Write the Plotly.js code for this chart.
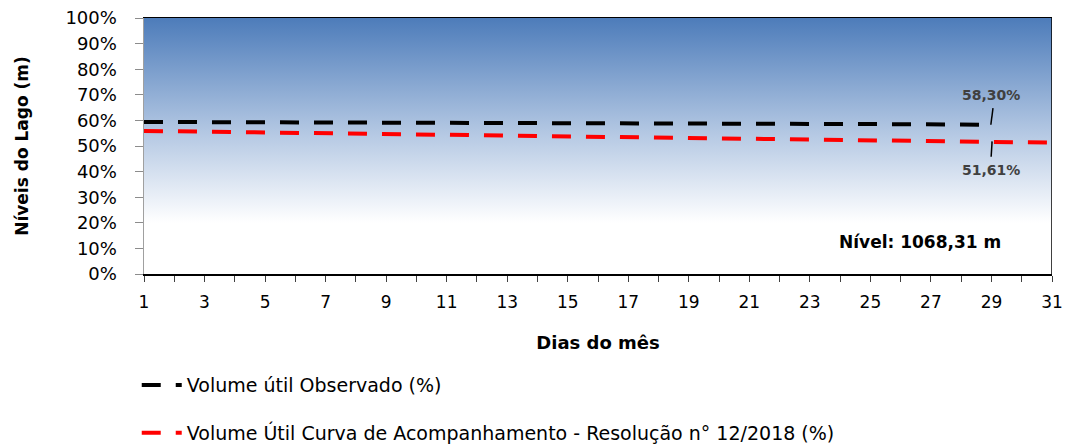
<!DOCTYPE html>
<html><head><meta charset="utf-8">
<script src="https://cdn.plot.ly/plotly-3.0.1.min.js"></script>
<style>html,body{margin:0;padding:0;background:#fff}#chart{width:1066px;height:446px}</style>
</head><body><div id="chart"></div>
<script>
const daysObs = [1,2,3,4,5,6,7,8,9,10,11,12,13,14,15,16,17,18,19,20,21,22,23,24,25,26,27,28,29];
const volObservado = [59.40,59.38,59.35,59.32,59.28,59.24,59.20,59.17,59.14,59.10,59.07,59.04,59.01,58.98,58.95,58.92,58.89,58.86,58.82,58.78,58.74,58.70,58.66,58.62,58.57,58.52,58.46,58.39,58.30];
const daysCurva = [1,2,3,4,5,6,7,8,9,10,11,12,13,14,15,16,17,18,19,20,21,22,23,24,25,26,27,28,29,30,31];
const volCurva = [55.90,55.75,55.60,55.45,55.30,55.15,55.00,54.85,54.70,54.55,54.40,54.25,54.10,53.95,53.80,53.65,53.50,53.35,53.20,53.05,52.90,52.75,52.60,52.45,52.30,52.15,52.00,51.85,51.61,51.45,51.30];
const yTickVals = [0,10,20,30,40,50,60,70,80,90,100];
const yTickText = ['0%','10%','20%','30%','40%','50%','60%','70%','80%','90%','100%'];
const labelObs = '58,30%';
const labelCurva = '51,61%';
const nivelText = 'Nível: 1068,31 m';

const dv = '"DejaVu Sans", sans-serif';
const traces = [
  {x:[1,31], y:[100,100], type:'scatter', mode:'none', fill:'tozeroy', hoverinfo:'skip', showlegend:false,
   fillgradient:{type:'vertical', colorscale:[[0,'#ffffff'],[0.2,'#ffffff'],[0.55,'#b4c8e3'],[1,'#4d7cba']]}},
  {x:daysObs, y:volObservado, type:'scatter', mode:'lines', name:'Volume útil Observado (%)',
   legendgroup:'a', line:{color:'#000000', width:4, dash:'19px,15px'}},
  {x:daysCurva, y:volCurva, type:'scatter', mode:'lines', name:'Volume Útil Curva de Acompanhamento - Resolução n° 12/2018 (%)',
   legendgroup:'b', line:{color:'#ff0000', width:4, dash:'19px,15px'}}
];
const layout = {
  width:1066, height:446,
  margin:{l:144, r:14, t:18, b:172, autoexpand:false},
  paper_bgcolor:'#ffffff', plot_bgcolor:'#ffffff',
  showlegend:true,
  legend:{x:-0.008, xanchor:'left', y:-0.36, yanchor:'top', orientation:'v', tracegroupgap:20,
          font:{family:dv, size:19, color:'#000'}, itemwidth:40, bgcolor:'rgba(0,0,0,0)'},
  xaxis:{range:[1,31], tickmode:'linear', tick0:1, dtick:2, ticks:'outside', ticklen:6, tickcolor:'#404040',
         showline:true, linecolor:'#000', linewidth:1.5, mirror:true, showgrid:false, zeroline:false,
         ticklabelstandoff:6,
         minor:{dtick:1, ticks:'outside', ticklen:6, tickcolor:'#404040', showgrid:false},
         tickfont:{family:dv, size:17, color:'#000'},
         title:{text:'<b>Dias do mês</b>', font:{family:dv, size:18, color:'#000'}, standoff:25}},
  yaxis:{range:[0,100], tickvals:yTickVals, ticktext:yTickText, ticks:'outside', ticklen:8, tickcolor:'#8c8c8c',
         showline:true, linecolor:'#a0a0a0', linewidth:1.5, showgrid:false, zeroline:false,
         ticklabelstandoff:14,
         tickfont:{family:dv, size:18, color:'#000'},
         title:{text:'<b>Níveis do Lago (m)</b>', font:{family:dv, size:17, color:'#000'}, standoff:32}},
  shapes:[
    {type:'line', xref:'x', yref:'paper', x0:31, x1:31, y0:0, y1:1, line:{color:'#000', width:1.5}},
    {type:'line', xref:'x', yref:'y', x0:29.05, y0:64.8, x1:28.98, y1:58.3, line:{color:'#000', width:1.5}},
    {type:'line', xref:'x', yref:'y', x0:29.02, y0:51.8, x1:28.99, y1:45.8, line:{color:'#000', width:1.5}}
  ],
  annotations:[
    {x:29, y:69.9, xref:'x', yref:'y', text:'<b>'+labelObs+'</b>', showarrow:false,
     font:{family:dv, size:14, color:'#404040'}},
    {x:29, y:40.6, xref:'x', yref:'y', text:'<b>'+labelCurva+'</b>', showarrow:false,
     font:{family:dv, size:14, color:'#404040'}},
    {x:0.855, y:0.125, xref:'paper', yref:'paper', xanchor:'center', yanchor:'middle', text:'<b>'+nivelText+'</b>', showarrow:false,
     font:{family:dv, size:17, color:'#000'}}
  ]
};
Plotly.newPlot('chart', traces, layout, {displayModeBar:false, staticPlot:true});
</script></body></html>
